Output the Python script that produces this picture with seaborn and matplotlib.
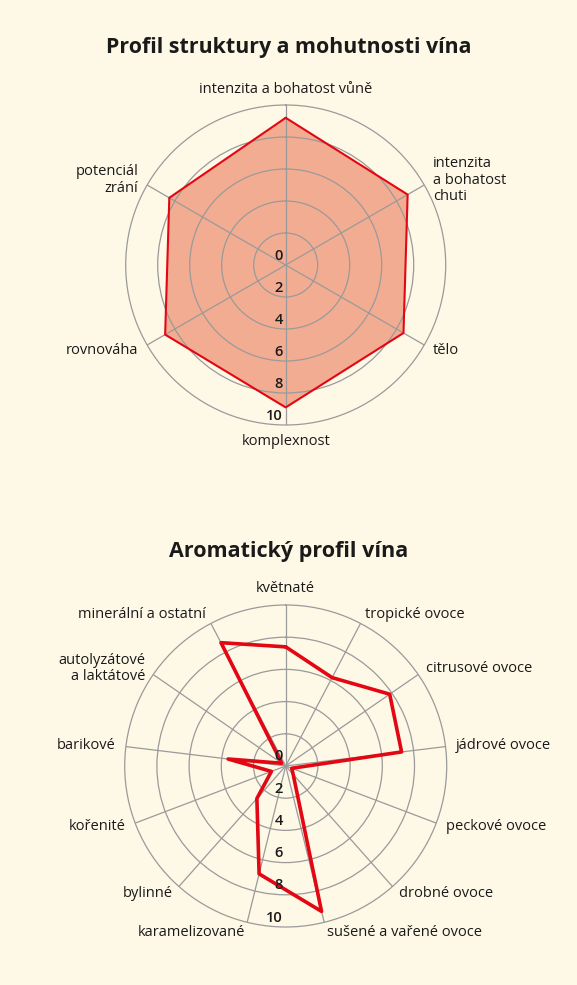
import matplotlib
matplotlib.use('Agg')
import numpy as np
import pandas as pd
import matplotlib.pyplot as plt
import seaborn as sns

# --- data ---
struktura_kategorie = ["intenzita a bohatost vůně", "intenzita\na bohatost\nchuti", "tělo",
                       "komplexnost", "rovnováha", "potenciál\nzrání"]
struktura_hodnoty = [9.2, 8.8, 8.5, 8.9, 8.7, 8.4]

aroma_kategorie = ["květnaté", "tropické ovoce", "citrusové ovoce", "jádrové ovoce",
                   "peckové ovoce", "drobné ovoce", "sušené a vařené ovoce", "karamelizované",
                   "bylinné", "kořenité", "barikové", "autolyzátové\na laktátové",
                   "minerální a ostatní"]
aroma_hodnoty = [7.4, 6.2, 7.85, 7.25, 0.4, 0.7, 9.3, 6.9, 2.7, 0.95, 3.6, 0.3, 8.65]

r_ticky = [0, 2, 4, 6, 8, 10]

# --- styl ---
sns.set_theme(style="white")
plt.rcParams['font.family'] = ['Open Sans', 'DejaVu Sans']
pozadi = "#fef8e6"
mrizka = "#9a9a9a"
cervena = "#e30613"
vypln = "#f2ac91"

W, H = 577, 985
fig = plt.figure(figsize=(W / 100, H / 100), dpi=100)
fig.patch.set_facecolor(pozadi)
PX = 0.72  # body na pixel


def radar(cx, cy, R, kategorie, hodnoty, lw, fill):
    ax = fig.add_axes([(cx - R) / W, 1 - (cy + R) / H, 2 * R / W, 2 * R / H], projection='polar')
    ax.set_facecolor(pozadi)
    ax.set_theta_zero_location('N')
    ax.set_theta_direction(-1)
    ax.set_axisbelow(False)
    n = len(kategorie)
    uhly = np.arange(n) * 2 * np.pi / n

    df = pd.DataFrame({'uhel': np.append(uhly, uhly[0]),
                       'hodnota': np.append(hodnoty, hodnoty[0])})
    if fill:
        ax.fill(df['uhel'], df['hodnota'], color=vypln, lw=0, zorder=1)
    sns.lineplot(data=df, x='uhel', y='hodnota', sort=False, estimator=None,
                 color=cervena, lw=lw, ax=ax, zorder=3)

    ax.set_ylim(0, 10)
    ax.set_yticks([2, 4, 6, 8])
    ax.set_yticklabels([])
    ax.set_xticks(uhly)
    ax.set_xticklabels([])
    ax.grid(True, color=mrizka, lw=0.9)
    ax.spines['polar'].set_color(mrizka)
    ax.spines['polar'].set_linewidth(0.9)
    ax.set_xlabel('')
    ax.set_ylabel('')

    for t, txt in zip(uhly, kategorie):
        s, c = np.sin(t), np.cos(t)
        if abs(s) < 0.1:
            ha, dx, dy = 'center', 0, 16 * np.sign(c)
        else:
            ha = 'left' if s > 0 else 'right'
            dx, dy = 10 * s, 10 * c
        ax.annotate(txt, xy=(t, 10), xytext=(dx * PX, dy * PX), textcoords='offset points',
                    ha=ha, va='center', fontsize=10.5, color='#1a1a1a',
                    linespacing=1.1, annotation_clip=False)

    for r in r_ticky:
        ax.annotate(str(r), xy=(np.pi, r), xytext=(-3 * PX, 9.5 * PX), textcoords='offset points',
                    ha='right', va='center', fontsize=10.5, fontweight='semibold',
                    color='#1a1a1a', annotation_clip=False, zorder=5)
    return ax


radar(285.7, 265, 160, struktura_kategorie, struktura_hodnoty, 1.5, True)
radar(285.7, 766, 161, aroma_kategorie, aroma_hodnoty, 2.6, False)

fig.text(0.5, 1 - 48 / H, "Profil struktury a mohutnosti vína", ha='center', va='center',
         fontsize=15.4, fontweight='bold', color='#1a1a1a')
fig.text(0.5, 1 - 551 / H, "Aromatický profil vína", ha='center', va='center',
         fontsize=15.5, fontweight='bold', color='#1a1a1a')

fig.savefig("out.png", dpi=100, facecolor=pozadi)
